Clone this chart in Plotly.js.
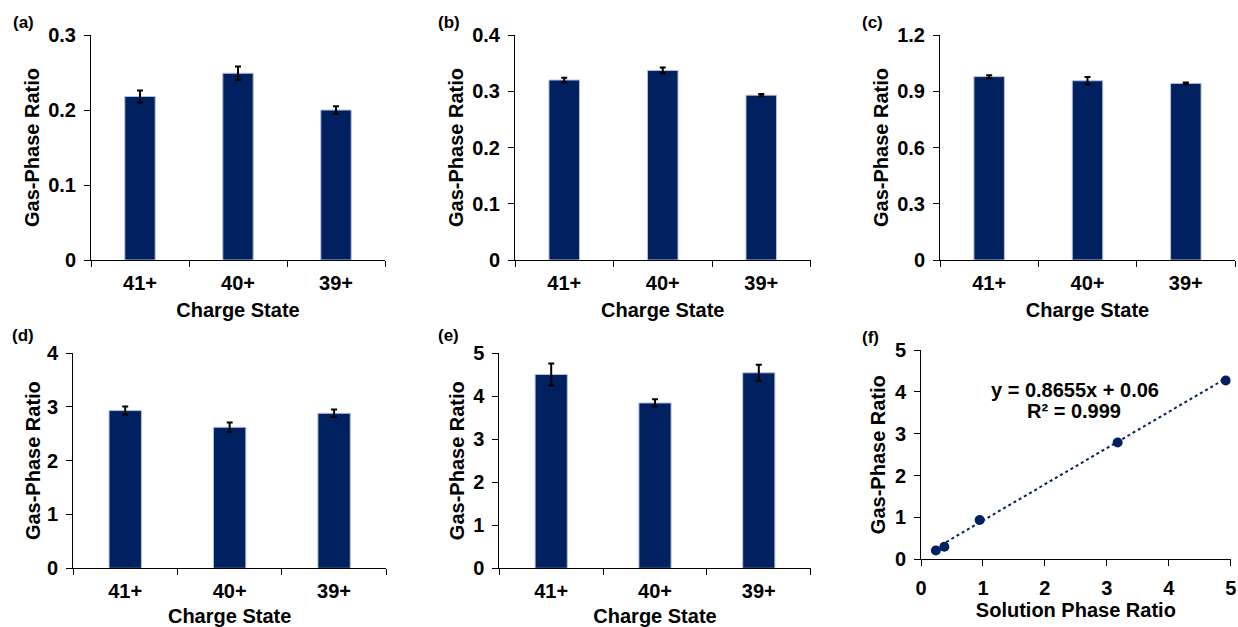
<!DOCTYPE html>
<html>
<head>
<meta charset="utf-8">
<script src="https://cdn.plot.ly/plotly-3.0.1.min.js"></script>
<style>html,body{margin:0;padding:0;background:#fff}#chart{width:1238px;height:627px}</style>
</head>
<body>
<div id="chart"></div>
<script>
const categories = ['41+', '40+', '39+'];

const valuesA = [0.218, 0.249, 0.200];
const errorsA = [0.008, 0.009, 0.005];
const valuesB = [0.320, 0.337, 0.293];
const errorsB = [0.004, 0.005, 0.002];
const valuesC = [0.978, 0.956, 0.942];
const errorsC = [0.008, 0.020, 0.005];
const valuesD = [2.93, 2.62, 2.88];
const errorsD = [0.077, 0.087, 0.068];
const valuesE = [4.50, 3.84, 4.54];
const errorsE = [0.255, 0.085, 0.186];

const solutionRatio = [0.24, 0.377, 0.947, 3.175, 4.92];
const gasRatio = [0.21, 0.30, 0.94, 2.79, 4.27];
const fitSlope = 0.8655;
const fitIntercept = 0.06;

const panelLabels = ['(a)', '(b)', '(c)', '(d)', '(e)', '(f)'];

const NAVY = '#002060';
const FONT = {family: 'Liberation Sans, Arial, sans-serif', size: 20, color: '#000', weight: 'bold'};

function barTrace(vals, errs, ax) {
  return {
    type: 'bar', x: categories, y: vals,
    xaxis: 'x' + ax, yaxis: 'y' + ax,
    marker: {color: NAVY, line: {color: '#b4c0dc', width: 1}},
    error_y: {type: 'data', array: errs, visible: true, color: '#000', thickness: 2, width: 3},
    hoverinfo: 'none', showlegend: false
  };
}

const traces = [
  barTrace(valuesA, errorsA, ''),
  barTrace(valuesB, errorsB, '2'),
  barTrace(valuesC, errorsC, '3'),
  barTrace(valuesD, errorsD, '4'),
  barTrace(valuesE, errorsE, '5')
];
const xMin = Math.min(...solutionRatio), xMax = Math.max(...solutionRatio);
traces.push({
  type: 'scatter', mode: 'lines', x: [xMin, xMax],
  y: [fitSlope * xMin + fitIntercept, fitSlope * xMax + fitIntercept],
  xaxis: 'x6', yaxis: 'y6', line: {color: NAVY, width: 2, dash: 'dot'},
  hoverinfo: 'none', showlegend: false
});
traces.push({
  type: 'scatter', mode: 'markers', x: solutionRatio, y: gasRatio,
  xaxis: 'x6', yaxis: 'y6', marker: {color: NAVY, size: 10},
  hoverinfo: 'none', showlegend: false
});

function xCat(domain, anchor) {
  return {
    domain: domain, anchor: anchor, type: 'category', range: [-0.5, 2.5],
    showline: true, linecolor: '#000', linewidth: 1,
    ticks: 'outside', tickson: 'boundaries', ticklen: 6, tickcolor: '#000', tickwidth: 1,
    ticklabelstandoff: 5,
    showgrid: false, zeroline: false, tickfont: FONT, fixedrange: true,
    title: {text: 'Charge State', font: FONT, standoff: 9}
  };
}
function yLin(domain, anchor, range, dtick) {
  return {
    domain: domain, anchor: anchor, range: range, dtick: dtick, tick0: 0,
    showline: true, linecolor: '#000', linewidth: 1,
    ticks: 'outside', ticklen: 6, tickcolor: '#000', tickwidth: 1,
    ticklabelstandoff: 4,
    showgrid: false, zeroline: false, tickfont: FONT, fixedrange: true,
    title: {text: 'Gas-Phase Ratio', font: FONT, standoff: 3}
  };
}

const W = 1238, H = 627;
const topY = [(H - 260) / H, (H - 35) / H];
const botY = [(H - 568.3) / H, (H - 353) / H];
const fY = [(H - 559.3) / H, (H - 350) / H];

const layout = {
  width: W, height: H,
  margin: {l: 0, r: 0, t: 0, b: 0},
  paper_bgcolor: '#fff', plot_bgcolor: 'rgba(0,0,0,0)',
  font: FONT,
  bargap: 0.69,
  showlegend: false,
  xaxis: xCat([91 / W, 385 / W], 'y'),
  yaxis: yLin(topY, 'x', [0, 0.3], 0.1),
  xaxis2: xCat([515 / W, 810.5 / W], 'y2'),
  yaxis2: yLin(topY, 'x2', [0, 0.4], 0.1),
  xaxis3: xCat([940 / W, 1235 / W], 'y3'),
  yaxis3: yLin(topY, 'x3', [0, 1.2], 0.3),
  xaxis4: xCat([73 / W, 386.3 / W], 'y4'),
  yaxis4: Object.assign(yLin(botY, 'x4', [0, 4], 1), {title: {text: 'Gas-Phase Ratio', font: FONT, standoff: 0}}),
  xaxis5: xCat([499.3 / W, 810.7 / W], 'y5'),
  yaxis5: yLin(botY, 'x5', [0, 5], 1),
  xaxis6: {
    domain: [921 / W, 1230.7 / W], anchor: 'y6', range: [0, 5], dtick: 1,
    showline: true, linecolor: '#000', linewidth: 1,
    ticks: 'outside', ticklen: 6, tickcolor: '#000', tickwidth: 1,
    ticklabelstandoff: 5,
    showgrid: false, zeroline: false, tickfont: FONT, fixedrange: true,
    title: {text: 'Solution Phase Ratio', font: FONT, standoff: 2}
  },
  yaxis6: yLin(fY, 'x6', [0, 5], 1),
  annotations: [
    {text: panelLabels[0], x: 23 / W, y: (H - 22) / H},
    {text: panelLabels[1], x: 449 / W, y: (H - 22) / H},
    {text: panelLabels[2], x: 872 / W, y: (H - 22) / H},
    {text: panelLabels[3], x: 23 / W, y: (H - 335) / H},
    {text: panelLabels[4], x: 448 / W, y: (H - 335) / H},
    {text: panelLabels[5], x: 870 / W, y: (H - 337) / H}
  ].map(a => Object.assign(a, {xref: 'paper', yref: 'paper', showarrow: false, xanchor: 'center', yanchor: 'middle',
      font: {family: FONT.family, size: 17, color: '#000', weight: 'bold'}})).concat([
    {text: 'y = 0.8655x + 0.06', xref: 'x6', yref: 'y6', x: 2.486, y: 4.04, showarrow: false,
     xanchor: 'center', yanchor: 'middle', font: FONT},
    {text: 'R² = 0.999', xref: 'x6', yref: 'y6', x: 2.47, y: 3.55, showarrow: false,
     xanchor: 'center', yanchor: 'middle', font: FONT}
  ])
};

Plotly.newPlot('chart', traces, layout, {displayModeBar: false, staticPlot: true});
</script>
</body>
</html>
